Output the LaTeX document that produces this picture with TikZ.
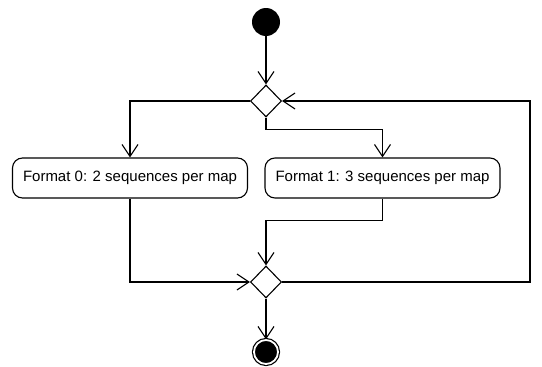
\documentclass[tikz,border=0pt]{standalone}
\usepackage{fontspec}
\setmainfont{Liberation Sans}
\usetikzlibrary{arrows.meta,shapes.geometric,positioning}

\tikzset{
    initialdot/.style={circle, fill=black, minimum size=28pt, inner sep=0pt},
    finaldot/.style={circle, draw, fill=black, minimum size=24pt, inner sep=0pt,
        line width=1.2pt, double, double distance=1.8pt},
    branch/.style={diamond, draw, line width=1.1pt, minimum width=31pt,
        minimum height=32pt, inner sep=0pt},
    activity/.style={rectangle, rounded corners=10pt, draw, line width=1.1pt,
        minimum width=235pt, minimum height=40pt, inner sep=2pt,
        font=\fontsize{15}{18}\selectfont},
    flow/.style={line width=1.1pt, -{Straight Barb[length=12pt,width=16pt]}}
}

\begin{document}
\begin{tikzpicture}[node distance=3cm,on grid]
            \useasboundingbox (0,0) rectangle (542pt,-367pt);
            \node[initialdot] (start) at (266pt,-22pt) {};
            \node[branch] (merge_1) [below=79pt of start] {};
            \node[activity] (fmt_0) [below left=77pt and 136pt of merge_1] {Format 0: 2 sequences per map};
            \node[activity] (fmt_1) [right=252.5pt of fmt_0] {Format 1: 3 sequences per map};
            \node[branch] (merge_2) [below=181pt of merge_1] {};
            \node[finaldot] (end) [below=70pt of merge_2] {};
            \coordinate (split_r) at ([yshift=-12pt]merge_1.south);
            \coordinate (join_r) at ([yshift=-22pt]fmt_1.south);
            \coordinate (back) at (530pt,-190pt);
            \draw[flow] (start) -- (merge_1.north);
            \draw[flow] (merge_1.west) -| (fmt_0.north);
            \draw[flow] (merge_1.south) -- (split_r) -| (fmt_1.north);
            \draw[flow] (fmt_0.south) |- (merge_2.west);
            \draw[flow] (fmt_1.south) -- (join_r) -| (merge_2.north);
            \draw[flow] (merge_2.east) -| (back) |- (merge_1.east);
            \draw[flow] (merge_2.south) -- (end.north);
        \end{tikzpicture}
\end{document}
